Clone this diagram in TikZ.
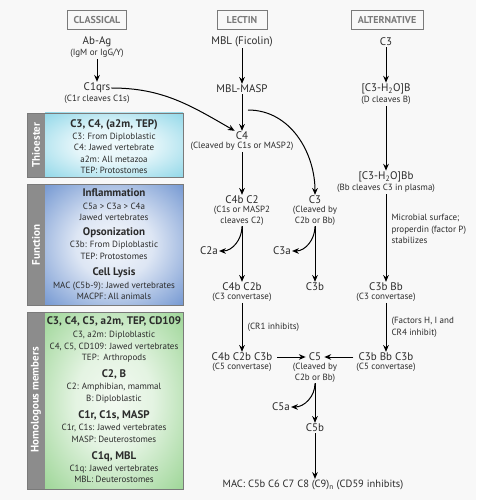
\documentclass[tikz,border=0pt]{standalone}
\usepackage{fontspec}
\setmainfont{PT Sans}
\usetikzlibrary{arrows.meta,positioning}
\definecolor{bgcol}{HTML}{F8F8F8}
\definecolor{txtcol}{HTML}{2B2B2B}
\definecolor{hdrcol}{HTML}{7A7A7A}
\definecolor{stripcol}{HTML}{8C8C8C}
\definecolor{thiocol}{HTML}{7CD0E4}
\definecolor{funccol}{HTML}{4474C2}
\definecolor{homcol}{HTML}{84CB7C}
\pgfdeclareradialshading{thioglow}{\pgfpoint{0bp}{0bp}}{color(0bp)=(white!88!thiocol);
  color(14bp)=(white!80!thiocol); color(36bp)=(thiocol!85!white); color(50bp)=(thiocol)}
\pgfdeclareradialshading{funcglow}{\pgfpoint{0bp}{0bp}}{color(0bp)=(white!94!funccol);
  color(14bp)=(white!82!funccol); color(36bp)=(funccol!75!white); color(50bp)=(funccol)}
\pgfdeclareradialshading{homglow}{\pgfpoint{0bp}{0bp}}{color(0bp)=(white!90!homcol);
  color(14bp)=(white!78!homcol); color(36bp)=(homcol!80!white); color(50bp)=(homcol)}
\newcommand{\paneltitle}[1]{{\fontsize{11}{12}\selectfont\bfseries #1}}

\begin{document}
\begin{tikzpicture}[x=1pt, y=-1pt,
    every node/.style={text=txtcol},
    header/.style={draw=hdrcol, line width=0.8pt, text=hdrcol,
                   font=\bfseries\fontsize{10}{11}\selectfont, minimum height=19pt},
    stage/.style={font=\fontsize{11}{12}\selectfont, inner sep=1pt},
    stagesub/.style={font=\fontsize{9}{10.5}\selectfont, inner sep=1pt, align=center},
    note/.style={font=\fontsize{9}{11.5}\selectfont, inner sep=1pt, align=left},
    panel/.style={font=\fontsize{9}{11.5}\selectfont, align=center, inner sep=0pt},
    panelbox/.style={draw=hdrcol, line width=0.6pt},
    strip/.style={rotate=90, text=white, font=\bfseries\fontsize{11}{12}\selectfont},
    arrow/.style={-{Stealth[length=2.4mm, width=2mm]}, line width=1pt}
]
\fill[bgcol] (0,0) rectangle (476,500);

% column headers
\node[header, minimum width=59pt] (classical)   at (97,20)  {CLASSICAL};
\node[header, minimum width=50pt] (lectin)      at (242,20) {LECTIN};
\node[header, minimum width=72pt] (alternative) at (387,20) {ALTERNATIVE};

% classical pathway
\node[stage] (abag) at (97,42) {Ab-Ag};
\node[stagesub, below=0pt of abag] (abag-sub) {(IgM or IgG/Y)};
\node[stage] (c1qrs) at (97,88) {C1qrs};
\node[stagesub, below=0pt of c1qrs] (c1qrs-sub) {(C1r cleaves C1s)};

% lectin pathway
\node[stage] (mbl) at (242,42) {MBL (Ficolin)};
\node[stage] (mblmasp) at (242,89) {MBL-MASP};
\node[stage] (c4) at (242,136) {C4};
\node[stagesub, below=0pt of c4] (c4-sub) {(Cleaved by C1s or MASP2)};
\node[stage] (c4bc2) at (242,200) {C4b C2};
\node[stagesub, below=0pt of c4bc2] (c4bc2-sub) {(C1s or MASP2\\cleaves C2)};
\node[stage] (c2a) at (209,251) {C2a};
\node[stage] (c4bc2b) at (242,287) {C4b C2b};
\node[stagesub, below=0pt of c4bc2b] (c4bc2b-sub) {(C3 convertase)};
\node[stage] (c4bc2b3b) at (242,357) {C4b C2b C3b};
\node[stagesub, below=0pt of c4bc2b3b] (c4bc2b3b-sub) {(C5 convertase)};
\coordinate (lsplit) at (248,110);

% C3 and C5 cleavage
\node[stage] (c3) at (315,200) {C3};
\node[stagesub, below=0pt of c3] (c3-sub) {(Cleaved by\\C2b or Bb)};
\node[stage] (c3a) at (282,251) {C3a};
\node[stage] (c3b) at (315,287) {C3b};
\node[stage] (c5) at (315,357) {C5};
\node[stagesub, below=0pt of c5] (c5-sub) {(Cleaved by\\C2b or Bb)};
\node[stage] (c5a) at (281,407) {C5a};
\node[stage] (c5b) at (315,428) {C5b};
\node[stage, font=\fontsize{10.5}{12}\selectfont] (mac) at (313,485)
    {MAC: C5b C6 C7 C8 (C9)\textsubscript{n} (CD59 inhibits)};

% alternative pathway
\node[stage] (c3alt) at (386,42) {C3};
\node[stage] (c3h2ob) at (386,89) {[C3-H\textsubscript{2}O]B};
\node[stagesub, below=0pt of c3h2ob] (c3h2ob-sub) {(D cleaves B)};
\node[stage] (c3h2obb) at (386,177) {[C3-H\textsubscript{2}O]Bb};
\node[stagesub, below=0pt of c3h2obb] (c3h2obb-sub) {(Bb cleaves C3 in plasma)};
\node[stage] (c3bbb) at (386,287) {C3b Bb};
\node[stagesub, below=0pt of c3bbb] (c3bbb-sub) {(C3 convertase)};
\node[stage] (c3bbbc3b) at (386,357) {C3b Bb C3b};
\node[stagesub, below=0pt of c3bbbc3b] (c3bbbc3b-sub) {(C5 convertase)};

% connectors
\draw[arrow] (abag-sub) -- (c1qrs);
\draw[arrow] (c1qrs.east) to[out=0, in=150] (c4.north west);
\draw[arrow] (mbl) -- (mblmasp);
\draw[arrow] (mblmasp) -- (c4);
\draw[arrow] (lsplit) to[out=0, in=90] (c3);
\draw[arrow] (c4-sub) -- (c4bc2);
\draw[arrow] (c4bc2-sub) -- (c4bc2b);
\draw[arrow] (c4bc2-sub.south) to[out=-90, in=0] (c2a.east);
\draw[arrow] (c4bc2b-sub) -- node[note, right=4pt] (cr1) {(CR1 inhibits)} (c4bc2b3b);
\draw[arrow] (c3-sub) -- (c3b);
\draw[arrow] (c3-sub.south) to[out=-90, in=0] (c3a.east);
\draw[arrow, shorten <=4pt, shorten >=2pt] (c4bc2b3b.east) -- (c5.west);
\draw[arrow, shorten <=4pt, shorten >=2pt] (c3bbbc3b.west) -- (c5.east);
\draw[arrow] (c5-sub) -- (c5b);
\draw[arrow] (c5-sub.south) to[out=-90, in=0] (c5a.east);
\draw[arrow] (c5b) -- (c5b |- mac.north);
\draw[arrow] (c3alt) -- (c3h2ob);
\draw[arrow] (c3h2ob-sub) -- (c3h2obb);
\draw[arrow] (c3h2obb-sub) -- node[note, right=4pt, pos=0.4] (microbial)
    {Microbial surface;\\properdin (factor P)\\stabilizes} (c3bbb);
\draw[arrow] (c3bbb-sub) -- node[note, right=4pt] (factors)
    {(Factors H, I and\\CR4 inhibit)} (c3bbbc3b);

% side panels
\shade[shading=thioglow] (45,113) rectangle (183,177);
\fill[stripcol] (27,113) rectangle (45,177);
\draw[panelbox] (27,113) rectangle (183,177);
\node[strip] (thio-tab) at (36,145) {Thioester};
\node[panel] (thio-txt) at (114,146.5) {\paneltitle{C3, C4, (a2m, TEP)}\\[0.5pt]
    C3: From Diploblastic\\C4: Jawed vertebrate\\a2m: All metazoa\\TEP: Protostomes};

\shade[shading=funcglow] (45,184) rectangle (183,305);
\fill[stripcol] (27,184) rectangle (45,305);
\draw[panelbox] (27,184) rectangle (183,305);
\node[strip] (func-tab) at (36,245) {Function};
\node[panel] (func-txt) at (114,244.5) {\paneltitle{Inflammation}\\[1pt]
    C5a > C3a > C4a\\Jawed vertebrates\\[3pt]
    \paneltitle{Opsonization}\\[1pt]
    C3b: From Diploblastic\\TEP: Protostomes\\[5pt]
    \paneltitle{Cell Lysis}\\[1pt]
    MAC (C5b-9): Jawed vertebrates\\MACPF: All animals};

\shade[shading=homglow] (45,312) rectangle (183,489);
\fill[stripcol] (27,312) rectangle (45,489);
\draw[panelbox] (27,312) rectangle (183,489);
\node[strip] (hom-tab) at (36,400) {Homologous members};
\node[panel] (hom-txt) at (114,399.5) {\paneltitle{C3, C4, C5, a2m, TEP, CD109}\\[2pt]
    C3, a2m: Diploblastic\\C4, C5, CD109: Jawed vertebrates\\TEP:\enspace Arthropods\\[5pt]
    \paneltitle{C2, B}\\[1pt]
    C2: Amphibian, mammal\\B: Diploblastic\\[6pt]
    \paneltitle{C1r, C1s, MASP}\\[0.5pt]
    C1r, C1s: Jawed vertebrates\\MASP: Deuterostomes\\[5.5pt]
    \paneltitle{C1q, MBL}\\[0.5pt]
    C1q: Jawed vertebrates\\MBL: Deuterostomes};
\end{tikzpicture}
\end{document}
